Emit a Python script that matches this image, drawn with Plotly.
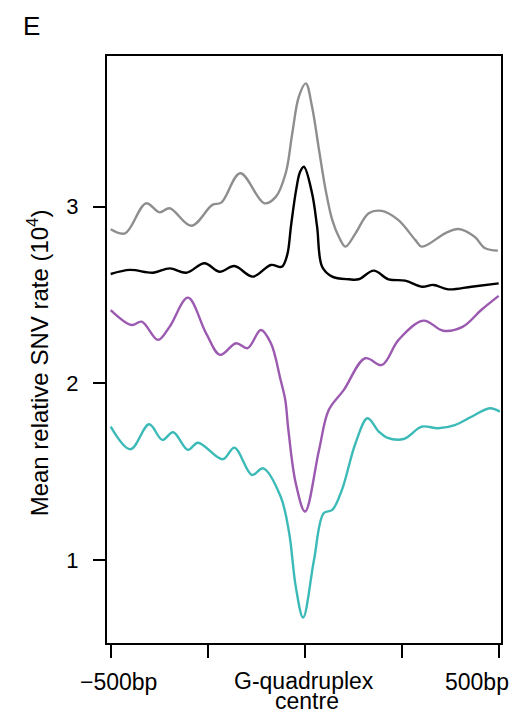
import plotly.graph_objects as go

# ---- data (bp from G-quadruplex centre, mean relative SNV rate x10^4) ----
gray_x = [-500, -463, -409, -374, -348, -292, -238, -215, -166, -104, -74, -49, -32, -15, 3,
          19, 37, 54, 71, 88, 105, 131, 165, 199, 241, 285, 302, 362, 396, 438, 464, 498]
gray_y = [2.872, 2.849, 3.019, 2.968, 2.991, 2.892, 3.010, 3.023, 3.189, 3.019, 3.057, 3.189,
          3.415, 3.623, 3.698, 3.566, 3.321, 3.095, 2.925, 2.830, 2.774, 2.849, 2.963, 2.976,
          2.925, 2.812, 2.774, 2.849, 2.874, 2.830, 2.766, 2.751]

black_x = [-500, -450, -391, -348, -305, -258, -220, -181, -134, -87, -59, -45, -35, -22, -12, -2,
           19, 32, 45, 71, 114, 139, 178, 216, 259, 302, 332, 370, 430, 500]
black_y = [2.619, 2.642, 2.626, 2.651, 2.626, 2.680, 2.632, 2.664, 2.604, 2.670, 2.660, 2.727,
           2.896, 3.095, 3.196, 3.226, 3.076, 2.887, 2.660, 2.604, 2.589, 2.589, 2.638, 2.589,
           2.581, 2.547, 2.557, 2.532, 2.547, 2.566]

purple_x = [-500, -446, -420, -378, -348, -301, -254, -218, -177, -147, -113, -87, -62, -50, -42,
            -23, 1, 37, 62, 101, 156, 199, 242, 306, 357, 408, 455, 500]
purple_y = [2.415, 2.330, 2.349, 2.246, 2.321, 2.485, 2.283, 2.161, 2.227, 2.199, 2.302, 2.227,
            2.019, 1.906, 1.736, 1.434, 1.274, 1.623, 1.849, 1.963, 2.142, 2.104, 2.246, 2.355,
            2.298, 2.321, 2.415, 2.495]

teal_x = [-500, -449, -401, -367, -339, -301, -275, -211, -181, -136, -107, -62, -40, -23, -4,
          24, 49, 71, 96, 131, 162, 191, 212, 255, 302, 344, 387, 430, 477, 503]
teal_y = [1.755, 1.627, 1.768, 1.680, 1.723, 1.623, 1.664, 1.570, 1.636, 1.481, 1.519, 1.359,
          1.153, 0.849, 0.674, 1.000, 1.265, 1.283, 1.397, 1.661, 1.802, 1.727, 1.693, 1.685,
          1.755, 1.746, 1.764, 1.811, 1.859, 1.840]

x_ticks = [-500, -250, 0, 250, 500]
y_ticks = [1, 2, 3]
y_tick_labels = ["1", "2", "3"]

FONT = "Liberation Sans, Arial, Helvetica, sans-serif"

fig = go.Figure()
for xs, ys, col in [(gray_x, gray_y, "#8e8e8e"), (black_x, black_y, "#000000"),
                    (purple_x, purple_y, "#9b59b0"), (teal_x, teal_y, "#3bbab7")]:
    fig.add_trace(go.Scatter(x=xs, y=ys, mode="lines",
                             line=dict(color=col, width=2.4, shape="spline", smoothing=1.0),
                             hoverinfo="skip", showlegend=False))

L, R, T, B = 107, 10, 56, 72
W, H = 513, 715
pw = W - L - R
ph = H - T - B

def px(xp):
    return (xp - L) / pw

def py(yp):
    return (H - B - yp) / ph

fig.update_layout(
    width=W, height=H,
    margin=dict(l=L, r=R, t=T, b=B, pad=0),
    paper_bgcolor="white", plot_bgcolor="white",
    font=dict(family=FONT, size=22, color="black"),
    xaxis=dict(range=[-509.5, 506], tickvals=x_ticks, showticklabels=False,
               ticks="outside", ticklen=13, tickwidth=2, tickcolor="black",
               showline=True, linewidth=2, linecolor="black", mirror=True,
               showgrid=False, zeroline=False),
    yaxis=dict(range=[0.530, 3.853], tickvals=y_ticks, ticktext=y_tick_labels,
               ticks="outside", ticklen=12, tickwidth=2, tickcolor="black",
               ticklabelstandoff=10,
               tickfont=dict(family=FONT, size=22),
               showline=True, linewidth=2, linecolor="black", mirror=True,
               showgrid=False, zeroline=False),
)

ann = [
    ("E", 31, 26, 26, "middle"),
    ("\u2212500bp", 119, 682, 23, "middle"),
    ("G-quadruplex", 305, 681, 23, "middle"),
    ("centre", 308, 715, 23, "bottom"),
    ("500bp", 479, 682, 23, "middle"),
]
for text, xp, yp, size, ya in ann:
    fig.add_annotation(text=text, xref="paper", yref="paper",
                       x=px(xp), y=py(yp), borderpad=0,
                       xanchor="center", yanchor=ya, showarrow=False,
                       font=dict(family=FONT, size=size, color="black"))

fig.add_annotation(text="Mean relative SNV rate (10<sup>4</sup>)", xref="paper", yref="paper",
                   x=px(38), y=py(363), xanchor="center", yanchor="middle",
                   textangle=-90, showarrow=False,
                   font=dict(family=FONT, size=24, color="black"))

fig.write_html("out.html")
